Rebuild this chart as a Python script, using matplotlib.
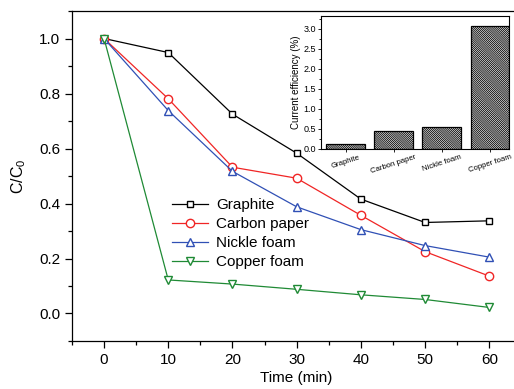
import numpy as np
import matplotlib
matplotlib.use('Agg')
import matplotlib.pyplot as plt
from matplotlib.ticker import MultipleLocator, FormatStrFormatter

# degradation kinetics for the four cathode materials
time_min = [0, 10, 20, 30, 40, 50, 60]
graphite = [1.0, 0.949, 0.725, 0.583, 0.416, 0.331, 0.337]
carbon_paper = [1.0, 0.781, 0.532, 0.492, 0.357, 0.225, 0.136]
nickle_foam = [1.0, 0.738, 0.517, 0.388, 0.305, 0.247, 0.205]
copper_foam = [1.0, 0.122, 0.107, 0.088, 0.068, 0.051, 0.022]

# current efficiency (inset)
cathodes = ['Graphite', 'Carbon paper', 'Nickle foam', 'Copper foam']
efficiency = [0.12, 0.46, 0.54, 3.07]

plt.rcParams['font.family'] = ['Liberation Sans', 'DejaVu Sans']
plt.rcParams['mathtext.fontset'] = 'custom'
plt.rcParams['mathtext.it'] = 'Liberation Sans:italic'
plt.rcParams['mathtext.rm'] = 'Liberation Sans'
plt.rcParams['hatch.linewidth'] = 0.6

fig = plt.figure(figsize=(5.14, 3.89), dpi=100)
ax = fig.add_axes([0.140, 0.1234, 0.8743, 0.8483])

series = [
    (graphite, 'Graphite', 'black', 's', 5.0),
    (carbon_paper, 'Carbon paper', '#f02525', 'o', 6.0),
    (nickle_foam, 'Nickle foam', '#3050b5', '^', 6.2),
    (copper_foam, 'Copper foam', '#1f8a35', 'v', 6.2),
]
for vals, name, col, mk, size in series:
    ax.plot(time_min, vals, color=col, lw=0.9, marker=mk, ms=size,
            mfc='white', mec=col, mew=1.0, label=name)

ax.set_xlim(-5, 65)
ax.set_ylim(-0.1, 1.1)
ax.set_xticks(time_min)
ax.xaxis.set_minor_locator(MultipleLocator(5))
ax.yaxis.set_major_locator(MultipleLocator(0.2))
ax.yaxis.set_minor_locator(MultipleLocator(0.1))
ax.yaxis.set_major_formatter(FormatStrFormatter('%.1f'))
ax.tick_params(axis='both', which='major', direction='out', length=5,
               width=0.9, labelsize=11)
ax.tick_params(axis='both', which='minor', direction='out', length=3, width=0.9)
ax.tick_params(top=False, right=False)
for s in ax.spines.values():
    s.set_linewidth(0.9)
ax.spines['right'].set_visible(False)

ax.set_xlabel('Time (min)', fontsize=11, labelpad=3)
ax.set_ylabel(r'$\mathrm{C/C_0}$', fontsize=11.5, labelpad=8)

ax.legend(loc='upper left', bbox_to_anchor=(0.205, 0.455), frameon=False,
          fontsize=11, handlelength=2.35, handletextpad=0.57,
          labelspacing=0.32, borderpad=0)

# inset: current efficiency bars
ins = fig.add_axes([0.6245, 0.617, 0.3658, 0.3426])
pos = np.arange(1, len(cathodes) + 1)
ins.bar(pos, efficiency, width=0.8, color='white', edgecolor='black',
        hatch='\\' * 16, linewidth=0.9)
ins.set_xlim(0.49, 4.4)
ins.set_ylim(0, 3.33)
ins.set_xticks(pos)
ins.set_xticklabels(cathodes, rotation=18, fontsize=5.6)
ins.yaxis.set_major_locator(MultipleLocator(0.5))
ins.yaxis.set_minor_locator(MultipleLocator(0.25))
ins.yaxis.set_major_formatter(FormatStrFormatter('%.1f'))
ins.tick_params(axis='both', which='major', direction='out', length=2.5,
                width=0.6, labelsize=6.5, pad=1)
ins.tick_params(axis='x', labelsize=5.6)
ins.tick_params(axis='y', which='minor', direction='out', length=1.5, width=0.6)
for s in ins.spines.values():
    s.set_linewidth(0.8)
ins.set_ylabel('Current efficiency (%)', fontsize=7, labelpad=2)

fig.savefig('out.png', dpi=100)
